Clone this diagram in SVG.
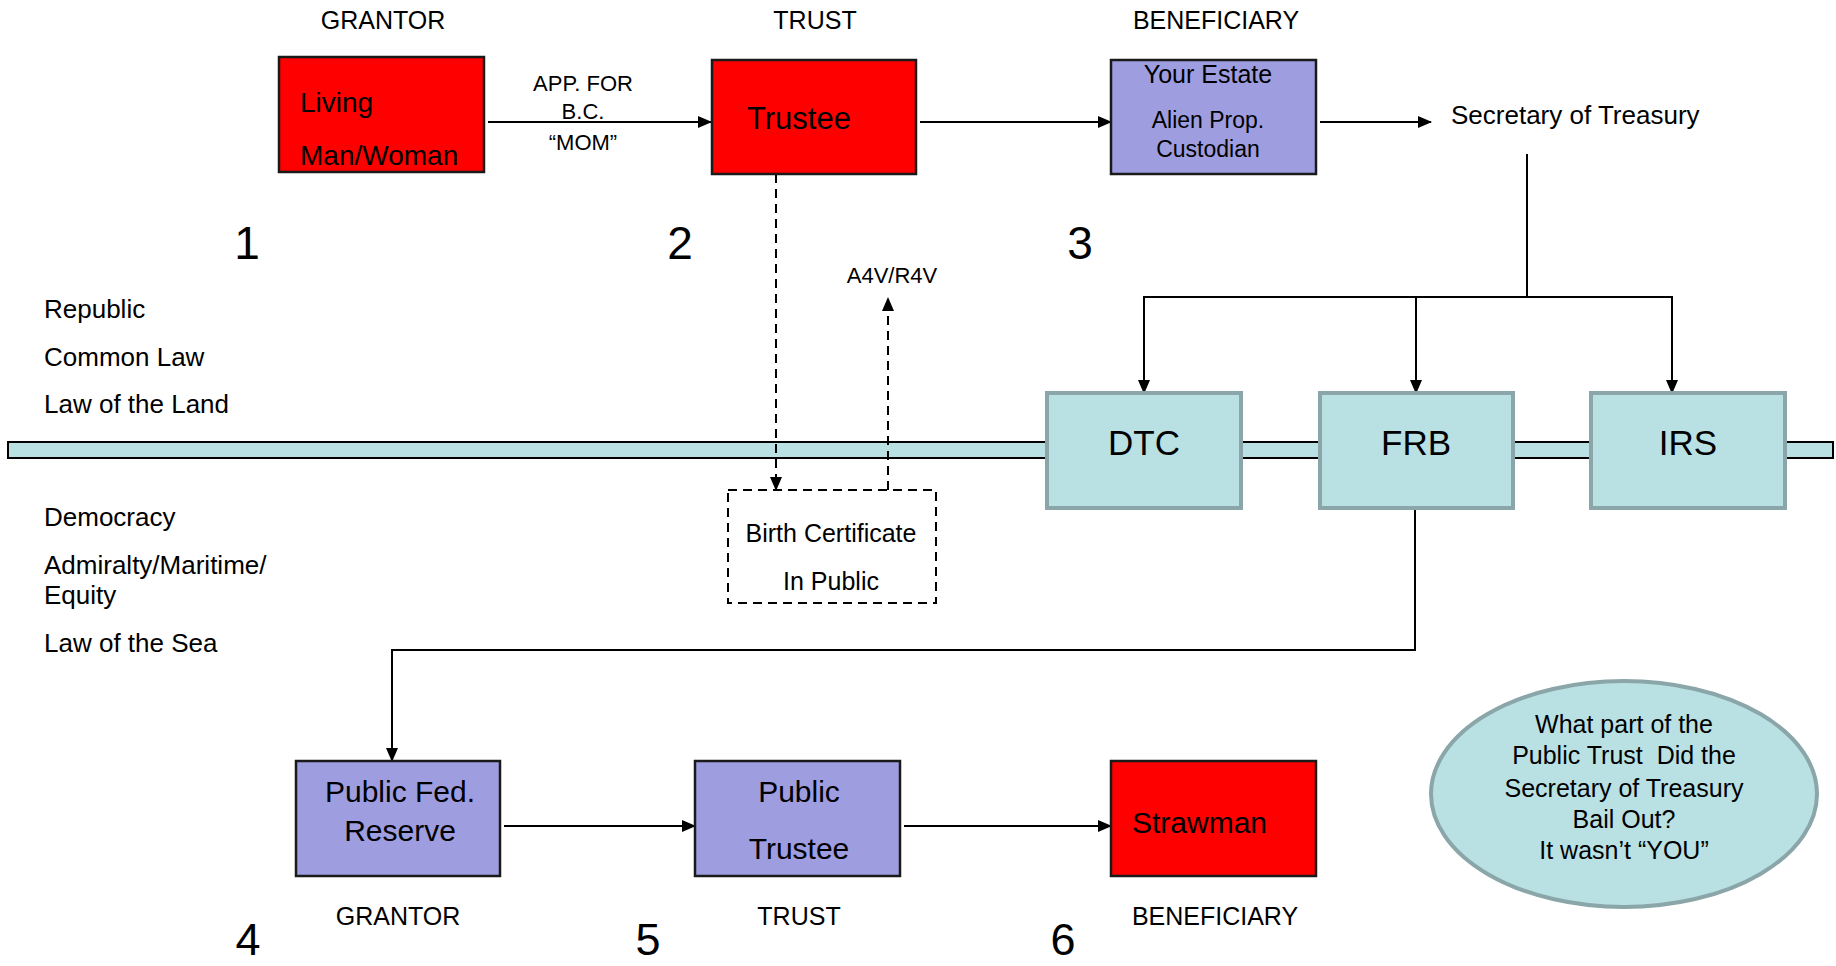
<svg xmlns="http://www.w3.org/2000/svg" width="1836" height="966" viewBox="0 0 1836 966">
<style>
text{font-family:"Liberation Sans",Arial,sans-serif;fill:#000}
.red{fill:#ff0000;stroke:#1a1a1a;stroke-width:2.5}
.pur{fill:#9e9de0;stroke:#1a1a1a;stroke-width:2.5}
.cyan{fill:#b9e0e3;stroke:#8aa6a8;stroke-width:4}
.c{text-anchor:middle}
.con{fill:none;stroke:#000;stroke-width:2}
.dash{fill:none;stroke:#000;stroke-width:2;stroke-dasharray:9,6}
.h{font-size:25px}
.num{font-size:46px}
.numb{font-size:45px}
.side{font-size:26px}
.pre{white-space:pre}
</style>
<defs>
<marker id="ah" markerUnits="userSpaceOnUse" markerWidth="14" markerHeight="12" refX="13" refY="6" orient="auto">
<path d="M0,0 L14,6 L0,12 z" fill="#000"/>
</marker>
</defs>
<rect width="1836" height="966" fill="#fff"/>

<!-- heading labels -->
<text class="h c" x="383" y="29">GRANTOR</text>
<text class="h c" x="815" y="29">TRUST</text>
<text class="h c" x="1216" y="29">BENEFICIARY</text>
<text class="h c" x="398" y="925">GRANTOR</text>
<text class="h c" x="799" y="925">TRUST</text>
<text class="h c" x="1215" y="925">BENEFICIARY</text>

<text class="num c" x="247" y="259">1</text>
<text class="num c" x="680" y="259">2</text>
<text class="num c" x="1080" y="259">3</text>
<text class="numb c" x="248" y="955">4</text>
<text class="numb c" x="648" y="955">5</text>
<text class="numb c" x="1063" y="955">6</text>

<text class="side" x="44" y="318">Republic</text>
<text class="side" x="44" y="366">Common Law</text>
<text class="side" x="44" y="413">Law of the Land</text>
<text class="side" x="44" y="526">Democracy</text>
<text class="side" x="44" y="574">Admiralty/Maritime/</text>
<text class="side" x="44" y="604">Equity</text>
<text class="side" x="44" y="652">Law of the Sea</text>

<!-- band -->
<rect id="band" x="8" y="442" width="1825" height="16" fill="#b9e0e3" stroke="#000" stroke-width="2"/>

<!-- connectors -->
<g id="connectors">
<line class="con" x1="488" y1="122" x2="711" y2="122" marker-end="url(#ah)"/>
<line class="con" x1="920" y1="122" x2="1111" y2="122" marker-end="url(#ah)"/>
<line class="con" x1="1320" y1="122" x2="1431" y2="122" marker-end="url(#ah)"/>
<line class="con" x1="1527" y1="154" x2="1527" y2="297"/>
<line class="con" x1="1143" y1="297" x2="1673" y2="297"/>
<line class="con" x1="1144" y1="297" x2="1144" y2="393" marker-end="url(#ah)"/>
<line class="con" x1="1416" y1="297" x2="1416" y2="393" marker-end="url(#ah)"/>
<line class="con" x1="1672" y1="297" x2="1672" y2="393" marker-end="url(#ah)"/>
<polyline class="con" points="1415,508 1415,650 392,650 392,761" marker-end="url(#ah)"/>
<line class="con" x1="504" y1="826" x2="695" y2="826" marker-end="url(#ah)"/>
<line class="con" x1="904" y1="826" x2="1111" y2="826" marker-end="url(#ah)"/>
<line class="dash" x1="776" y1="174" x2="776" y2="490" marker-end="url(#ah)"/>
<line class="dash" x1="888" y1="490" x2="888" y2="298" marker-end="url(#ah)"/>
<text x="583" y="91" class="c" font-size="22">APP. FOR</text>
<text x="583" y="119" class="c" font-size="22">B.C.</text>
<text x="583" y="150" class="c" font-size="22">“MOM”</text>
<text x="892" y="283" class="c" font-size="22">A4V/R4V</text>
</g>

<g id="living">
<rect class="red" x="279" y="57" width="205" height="115"/>
<text x="300" y="112" font-size="28">Living</text>
<text x="300" y="165" font-size="28">Man/Woman</text>
</g>
<g id="trustee">
<rect class="red" x="712" y="60" width="204" height="114"/>
<text x="747" y="129" font-size="31">Trustee</text>
</g>
<g id="estate">
<rect class="pur" x="1111" y="60" width="205" height="114"/>
<text class="c" x="1208" y="83" font-size="25">Your Estate</text>
<text class="c" x="1208" y="128" font-size="23">Alien Prop.</text>
<text class="c" x="1208" y="157" font-size="23">Custodian</text>
</g>
<g id="secretary">
<text x="1451" y="124" font-size="26">Secretary of Treasury</text>
</g>
<g id="dtc">
<rect class="cyan" x="1047" y="393" width="194" height="115"/>
<text class="c" x="1144" y="455" font-size="35">DTC</text>
</g>
<g id="frb">
<rect class="cyan" x="1320" y="393" width="193" height="115"/>
<text class="c" x="1416" y="455" font-size="35">FRB</text>
</g>
<g id="irs">
<rect class="cyan" x="1591" y="393" width="194" height="115"/>
<text class="c" x="1688" y="455" font-size="35">IRS</text>
</g>
<g id="birthcert">
<rect x="728" y="490" width="208" height="113" fill="none" stroke="#000" stroke-width="2" stroke-dasharray="9,6"/>
<text class="c" x="831" y="542" font-size="25">Birth Certificate</text>
<text class="c" x="831" y="590" font-size="25">In Public</text>
</g>
<g id="pubfed">
<rect class="pur" x="296" y="761" width="204" height="115"/>
<text class="c" x="400" y="802" font-size="30">Public Fed.</text>
<text class="c" x="400" y="841" font-size="30">Reserve</text>
</g>
<g id="pubtrustee">
<rect class="pur" x="695" y="761" width="205" height="115"/>
<text class="c" x="799" y="802" font-size="30">Public</text>
<text class="c" x="799" y="859" font-size="30">Trustee</text>
</g>
<g id="strawman">
<rect class="red" x="1111" y="761" width="205" height="115"/>
<text x="1132" y="833" font-size="30">Strawman</text>
</g>
<g id="question">
<ellipse cx="1624" cy="794" rx="193" ry="113" fill="#b9e0e3" stroke="#8aa6a8" stroke-width="4"/>
<text class="c" x="1624" y="733" font-size="25">What part of the</text>
<text class="c pre" x="1624" y="764" font-size="25" xml:space="preserve">Public Trust  Did the</text>
<text class="c" x="1624" y="797" font-size="25">Secretary of Treasury</text>
<text class="c" x="1624" y="828" font-size="25">Bail Out?</text>
<text class="c" x="1624" y="859" font-size="25">It wasn’t “YOU”</text>
</g>
</svg>
